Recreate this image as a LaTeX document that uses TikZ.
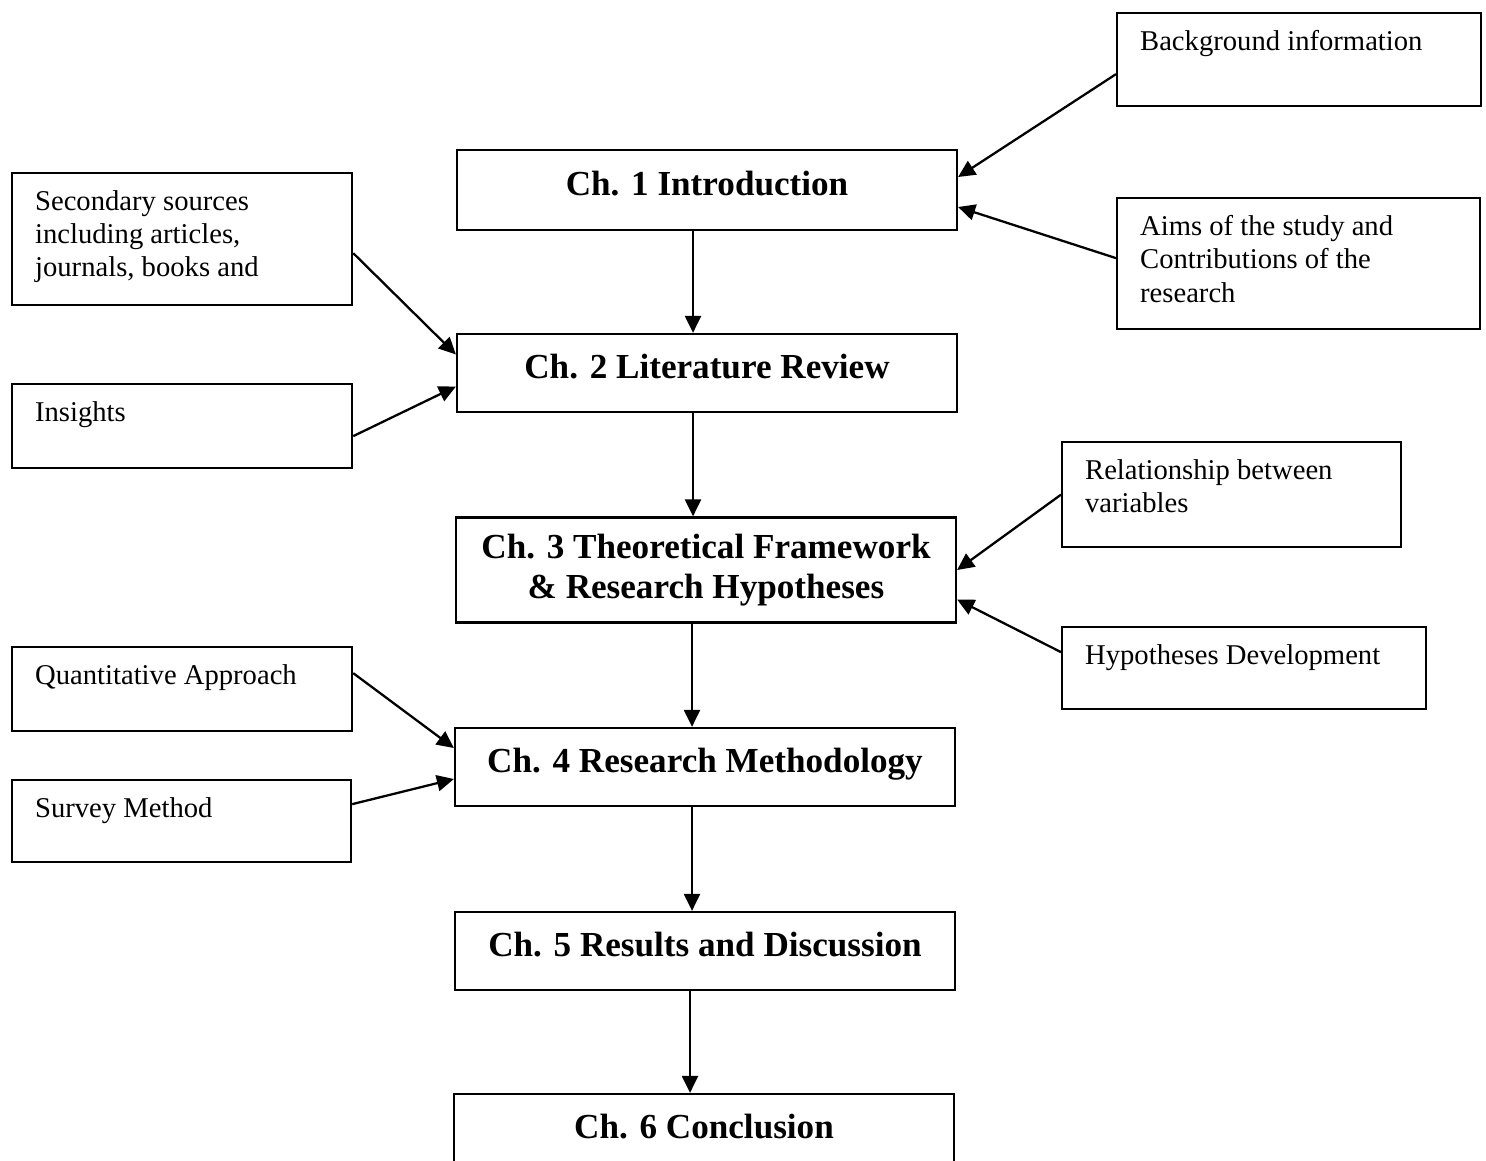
\documentclass[tikz,border=0pt]{standalone}
\usepackage{fontspec}
\setmainfont{Liberation Serif}
\usetikzlibrary{arrows.meta}

\newcommand{\sidetext}[3]{\parbox[t][#1][t]{#2}{\raggedright #3}}

\begin{document}
\begin{tikzpicture}[x=0.02cm, y=-0.02cm, line width=1.3pt,
  chap/.style = {draw, minimum width=10cm, minimum height=1.56cm, align=center, font=\fontsize{20}{23.2}\selectfont\bfseries},
  side/.style = {draw, anchor=north west, inner xsep=0.46cm, inner ysep=0.34cm, font=\fontsize{16.3}{19}\selectfont},
  >={Triangle[length=0.34cm, width=0.32cm]}]
\useasboundingbox (0,0) rectangle (1486,1160);
\node[chap, minimum height=1.6cm, text depth=0.28cm] (1) at (707,190) {Ch. 1 Introduction};
\node[chap, text depth=0.28cm] (2) at (707,373) {Ch. 2 Literature Review};
\node[chap, minimum height=2.1cm] (3) at (706,570) {Ch. 3 Theoretical Framework\\\& Research Hypotheses};
\node[chap, text depth=0.28cm] (4) at (705,767) {Ch. 4 Research Methodology};
\node[chap, text depth=0.28cm] (5) at (705,951) {Ch. 5 Results and Discussion};
\node[chap, text depth=0.28cm] (6) at (704,1133) {Ch. 6 Conclusion};
\node[side] (bg) at (1116,12) {\sidetext{1.18cm}{6.36cm}{Background information}};
\node[side] (aims) at (1116,197) {\sidetext{1.94cm}{6.34cm}{Aims of the study and\\Contributions of the\\research}};
\node[side] (sec) at (11,172) {\sidetext{1.96cm}{5.88cm}{Secondary sources\\including articles,\\journals, books and}};
\node[side] (ins) at (11,383) {\sidetext{1.0cm}{5.88cm}{Insights}};
\node[side] (rel) at (1061,441) {\sidetext{1.42cm}{5.86cm}{Relationship between\\variables}};
\node[side] (hyp) at (1061,626) {\sidetext{0.96cm}{6.36cm}{Hypotheses Development}};
\node[side] (quant) at (11,646) {\sidetext{1.0cm}{5.88cm}{Quantitative Approach}};
\node[side] (surv) at (11,779) {\sidetext{0.96cm}{5.86cm}{Survey Method}};
\draw[->] ([xshift=-0.28cm]1.south) -- ([xshift=-0.28cm]1.south |- 2.north);
\draw[->] ([xshift=-0.28cm]2.south) -- ([xshift=-0.28cm]2.south |- 3.north);
\draw[->] ([xshift=-0.28cm]3.south) -- ([xshift=-0.28cm]3.south |- 4.north);
\draw[->] ([xshift=-0.26cm]4.south) -- ([xshift=-0.26cm]4.south |- 5.north);
\draw[->] ([xshift=-0.3cm]5.south) -- ([xshift=-0.3cm]5.south |- 6.north);
\draw[->] ([yshift=-0.29cm]bg.west) -- ([yshift=0.26cm]1.east);
\draw[->] ([yshift=0.11cm]aims.west) -- ([yshift=-0.34cm]1.east);
\draw[->] ([yshift=-0.28cm]sec.east) -- ([yshift=0.37cm]2.west);
\draw[->] ([yshift=-0.2cm]ins.east) -- ([yshift=-0.27cm]2.west);
\draw[->] (rel.west) -- (3.east);
\draw[->] ([yshift=0.32cm]hyp.west) -- ([yshift=-0.59cm]3.east);
\draw[->] ([yshift=0.32cm]quant.east) -- ([yshift=0.38cm]4.west);
\draw[->] ([yshift=0.34cm]surv.east) -- ([yshift=-0.24cm]4.west);
\end{tikzpicture}
\end{document}
